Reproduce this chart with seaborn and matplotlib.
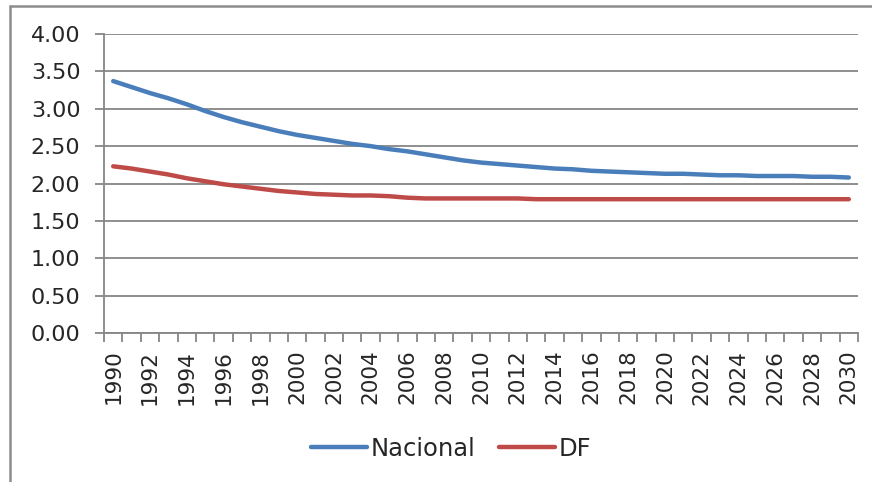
import pandas as pd
import matplotlib.pyplot as plt
import seaborn as sns
from matplotlib.lines import Line2D
from matplotlib.ticker import MultipleLocator, FormatStrFormatter

# ------------------------------
# Data
# ------------------------------
years = list(range(1990, 2031))
nacional = [3.37, 3.29, 3.21, 3.14, 3.06, 2.97, 2.89, 2.82, 2.76, 2.70,
            2.65, 2.61, 2.57, 2.53, 2.50, 2.46, 2.43, 2.39, 2.35, 2.31,
            2.28, 2.26, 2.24, 2.22, 2.20, 2.19, 2.17, 2.16, 2.15, 2.14,
            2.13, 2.13, 2.12, 2.11, 2.11, 2.10, 2.10, 2.10, 2.09, 2.09,
            2.08]
df_vals = [2.23, 2.20, 2.16, 2.12, 2.07, 2.03, 1.99, 1.96, 1.93, 1.90,
           1.88, 1.86, 1.85, 1.84, 1.84, 1.83, 1.81, 1.80, 1.80, 1.80,
           1.80, 1.80, 1.80, 1.79, 1.79, 1.79, 1.79, 1.79, 1.79, 1.79,
           1.79, 1.79, 1.79, 1.79, 1.79, 1.79, 1.79, 1.79, 1.79, 1.79,
           1.79]
series_names = ["Nacional", "DF"]
colors = ["#4A7EBB", "#BE4B48"]

data = pd.DataFrame({
    "year": years * 2,
    "value": nacional + df_vals,
    "serie": [series_names[0]] * len(years) + [series_names[1]] * len(years),
})

# ------------------------------
# Plot
# ------------------------------
sns.set_style("white")
plt.rcParams['font.family'] = ['DejaVu Sans']

fig = plt.figure(figsize=(8.72, 4.82), dpi=100)
ax = fig.add_axes([104 / 872, 1 - 333 / 482, (858 - 104) / 872, (333 - 34) / 482])

sns.lineplot(data=data, x="year", y="value", hue="serie",
             palette=dict(zip(series_names, colors)), linewidth=3.2, ax=ax)

grid_c = "#868686"
ax.set_xlim(1989.5, 2030.5)
ax.set_ylim(0, 4)
ax.yaxis.set_major_locator(MultipleLocator(0.5))
ax.yaxis.set_major_formatter(FormatStrFormatter("%.2f"))
ax.yaxis.grid(True, color=grid_c, linewidth=1.3)
ax.set_axisbelow(True)

ax.set_xticks(years[::2])
ax.set_xticklabels([str(y) for y in years[::2]], rotation=90)
ax.set_xticks([y - 0.5 for y in years] + [2030.5], minor=True)
ax.tick_params(axis="x", which="major", length=0, pad=12, labelsize=15.5)
ax.tick_params(axis="x", which="minor", length=6.5, width=1.3, color=grid_c,
               direction="out", bottom=True)
ax.tick_params(axis="y", length=6.5, width=1.3, color=grid_c, direction="out",
               left=True, pad=10.5, labelsize=16)

for side in ["top", "right"]:
    ax.spines[side].set_visible(False)
for side in ["left", "bottom"]:
    ax.spines[side].set_color(grid_c)
    ax.spines[side].set_linewidth(1.3)

ax.set_xlabel("")
ax.set_ylabel("")

leg = ax.legend(ncol=2, frameon=False, fontsize=17.5, handlelength=2.3,
                handletextpad=0.15, columnspacing=1.0,
                loc="center", bbox_to_anchor=(451 / 872, 1 - 449 / 482),
                bbox_transform=fig.transFigure)
for line in leg.get_lines():
    line.set_linewidth(3.2)

# chart border (left and top edges visible in the crop)
border_c = "#8C8C8C"
fig.add_artist(Line2D([10 / 872, 10 / 872], [0, 1 - 6 / 482],
                      transform=fig.transFigure, color=border_c, linewidth=1.8))
fig.add_artist(Line2D([10 / 872, 1], [1 - 6 / 482, 1 - 6 / 482],
                      transform=fig.transFigure, color=border_c, linewidth=1.8))

fig.savefig("out.png", dpi=100)
